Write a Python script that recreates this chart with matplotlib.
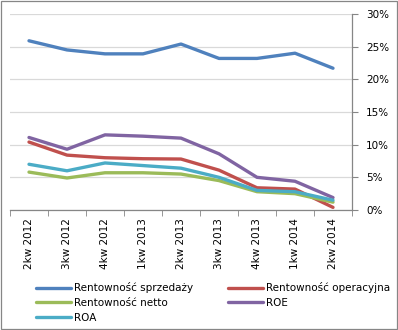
import numpy as np
import matplotlib
matplotlib.use("Agg")
import matplotlib.pyplot as plt
from matplotlib.ticker import FuncFormatter

# Quarterly profitability ratios (%)
quarters = ["2kw 2012", "3kw 2012", "4kw 2012", "1kw 2013", "2kw 2013",
            "3kw 2013", "4kw 2013", "1kw 2014", "2kw 2014"]
sprzedazy = [25.9, 24.5, 23.9, 23.9, 25.4, 23.2, 23.2, 24.0, 21.7]
operacyjna = [10.4, 8.4, 8.0, 7.85, 7.8, 6.1, 3.4, 3.2, 0.4]
netto = [5.8, 4.9, 5.7, 5.7, 5.5, 4.5, 2.8, 2.5, 1.2]
roe = [11.1, 9.3, 11.5, 11.3, 11.0, 8.6, 5.0, 4.4, 1.9]
roa = [7.0, 6.0, 7.2, 6.8, 6.4, 5.0, 3.0, 2.8, 1.5]

series = [
    ("Rentowność sprzedaży", sprzedazy, "#4F81BD"),
    ("Rentowność operacyjna", operacyjna, "#C0504D"),
    ("Rentowność netto", netto, "#9BBB59"),
    ("ROE", roe, "#8064A2"),
    ("ROA", roa, "#4BACC6"),
]

plt.rcParams['font.family'] = ['DejaVu Sans']
fig = plt.figure(figsize=(3.98, 3.30), dpi=100)
ax = fig.add_axes([10 / 398, 1 - 210 / 330, 342 / 398, 196 / 330])

x = np.arange(len(quarters))
for name, vals, col in series:
    ax.plot(x, vals, color=col, lw=2.4, label=name, solid_capstyle="round")

ax.set_xlim(-0.5, len(quarters) - 0.5)
ax.set_ylim(0, 30)
ax.yaxis.tick_right()
ax.set_yticks(range(0, 31, 5))
ax.yaxis.set_major_formatter(FuncFormatter(lambda v, p: f"{int(v)}%"))
ax.grid(axis="y", color="#D9D9D9", lw=0.9)
ax.set_axisbelow(True)

ax.set_xticks(x)
ax.set_xticklabels(quarters, rotation=90, fontsize=7.5)
ax.set_xticks(np.arange(-0.5, len(quarters)), minor=True)
ax.tick_params(axis="x", which="major", length=0, pad=6)
ax.tick_params(axis="x", which="minor", length=4, color="#868686")
ax.tick_params(axis="y", length=4, color="#868686", labelsize=7.5, pad=6)

for side in ("top", "left"):
    ax.spines[side].set_visible(False)
for side in ("bottom", "right"):
    ax.spines[side].set_color("#868686")
    ax.spines[side].set_linewidth(0.9)

# legend fills row by row: reorder for matplotlib's column-major layout
handles, labels = ax.get_legend_handles_labels()
order = [0, 2, 4, 1, 3]
fig.legend([handles[i] for i in order], [labels[i] for i in order],
           ncol=2, loc="upper left",
           bbox_to_anchor=(31 / 398, 1 - 277 / 330), frameon=False,
           fontsize=7.5, handlelength=3.3, handletextpad=0.3,
           columnspacing=3.4, labelspacing=0.45, borderpad=0)

# chart frame
fig.patches.append(plt.Rectangle((0.002, 0.002), 0.996, 0.996, transform=fig.transFigure,
                                 fill=False, edgecolor="#868686", lw=0.9))

fig.savefig("out.png", dpi=100)
